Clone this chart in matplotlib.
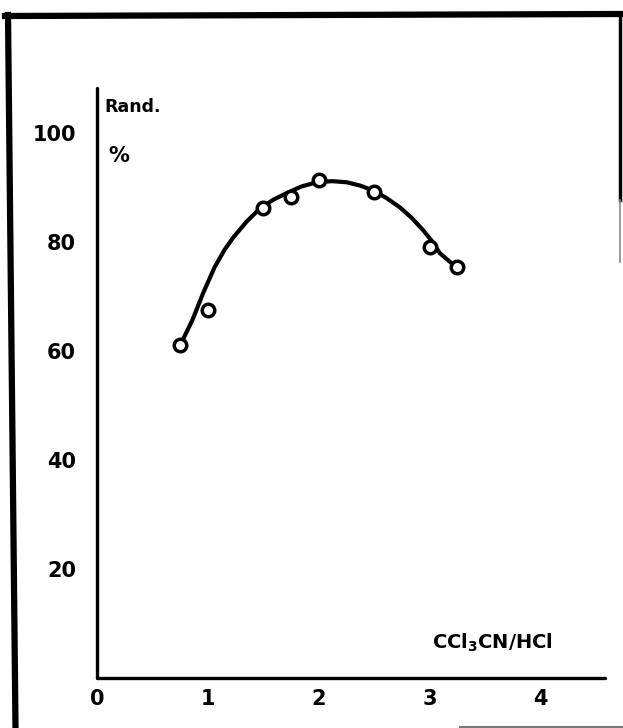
import matplotlib
matplotlib.use("Agg")
import matplotlib.pyplot as plt
from matplotlib.lines import Line2D

plt.rcParams['font.family'] = ['DejaVu Sans']
plt.rcParams['mathtext.fontset'] = 'dejavusans'
plt.rcParams['mathtext.default'] = 'bf'

# measured points
ratio = [0.75, 1.0, 1.5, 1.75, 2.0, 2.5, 3.0, 3.25]
yield_pct = [61.1, 67.5, 86.2, 88.3, 91.4, 89.2, 79.1, 75.4]

# hand-drawn smooth curve
curve_x = [0.75, 0.86, 0.96, 1.06, 1.15, 1.23, 1.35, 1.47, 1.59, 1.71, 1.84, 1.98,
           2.12, 2.25, 2.37, 2.49, 2.61, 2.73, 2.84, 2.94, 3.02, 3.09, 3.17, 3.24]
curve_y = [61.1, 65.7, 70.8, 75.4, 78.6, 80.9, 83.8, 86.2, 87.8, 89.0, 90.2, 91.0,
           91.2, 91.0, 90.4, 89.5, 88.1, 86.4, 84.4, 82.2, 80.2, 78.0, 76.6, 75.4]

xticks = [0, 1, 2, 3, 4]
yticks = [20, 40, 60, 80, 100]

W, H = 623, 728
fig = plt.figure(figsize=(W / 100, H / 100), dpi=100)
ax = fig.add_axes([97 / W, 50 / H, 508 / W, 590 / H])

ax.plot(curve_x, curve_y, color='black', lw=3.0, solid_capstyle='round', zorder=2)
ax.plot(ratio, yield_pct, 'o', ms=9, mfc='white', mec='black', mew=2.5, zorder=3)

ax.set_xlim(0, 4.58)
ax.set_ylim(0, 108.3)
ax.set_xticks(xticks)
ax.set_yticks(yticks)
ax.set_xticklabels([str(v) for v in xticks], fontsize=15, fontweight='bold')
ax.set_yticklabels([str(v) for v in yticks], fontsize=15, fontweight='bold')
ax.tick_params(axis='both', length=0)
ax.tick_params(axis='y', pad=15)
ax.tick_params(axis='x', pad=8)
for s in ['top', 'right']:
    ax.spines[s].set_visible(False)
for s in ['left', 'bottom']:
    ax.spines[s].set_linewidth(2.4)
    ax.spines[s].set_capstyle('round')

ax.text(0.07, 104.8, 'Rand.', fontsize=12.5, fontweight='bold', ha='left', va='center')
ax.text(0.1, 95.8, '%', fontsize=15, fontweight='bold', ha='left', va='center')
ax.text(3.02, 6.4, r'CCl$_3$CN/HCl', fontsize=14, fontweight='bold', ha='left', va='center')

# scanned page frame
fig.add_artist(Line2D([8 / W, 15.5 / W], [1 - 15 / H, 0], transform=fig.transFigure,
                      color='black', lw=4.5))
fig.add_artist(Line2D([5 / W, 621 / W], [1 - 16 / H, 1 - 14 / H], transform=fig.transFigure,
                      color='black', lw=4.5))
fig.add_artist(Line2D([620 / W, 620 / W], [1 - 14 / H, 1 - 200 / H], transform=fig.transFigure,
                      color='black', lw=2.5))
fig.add_artist(Line2D([620 / W, 620 / W], [1 - 200 / H, 1 - 262 / H], transform=fig.transFigure,
                      color='#888888', lw=1.2))
fig.add_artist(Line2D([460 / W, 623 / W], [1.5 / H, 1.5 / H], transform=fig.transFigure,
                      color='#777777', lw=1.5))

fig.savefig('out.png', dpi=100)
